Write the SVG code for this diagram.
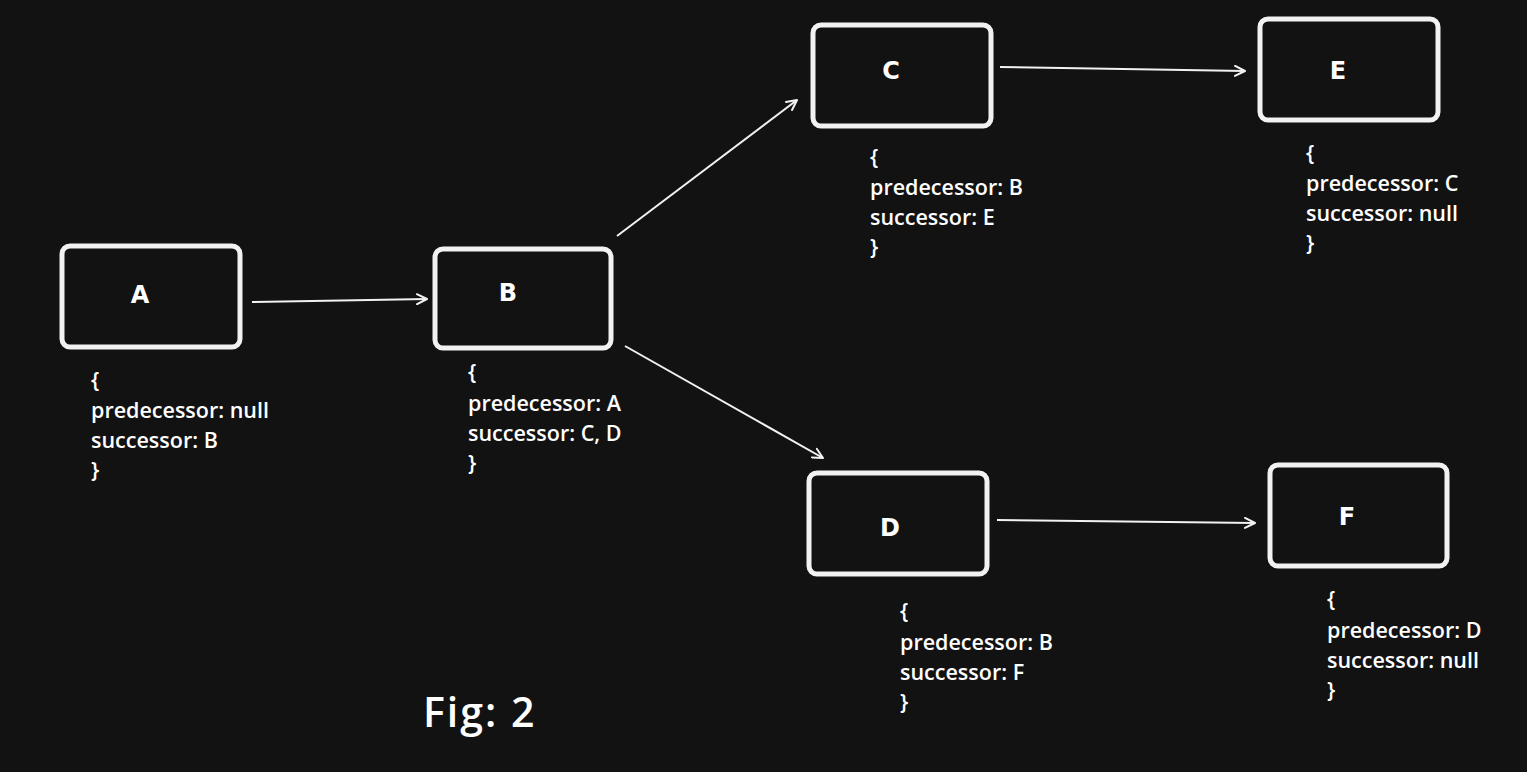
<svg xmlns="http://www.w3.org/2000/svg" width="1527" height="772" viewBox="0 0 1527 772">
<defs>
<style>
.box{fill:#121212;stroke:#f2f2f2;stroke-width:5}
.lbl{font-family:"DejaVu Sans",sans-serif;font-weight:bold;font-size:24px;fill:#ffffff;text-anchor:middle}
.info{font-family:"Open Sans","Liberation Sans",sans-serif;font-size:21.5px;font-weight:600;fill:#ffffff}
.edge{stroke:#f2f2f2;stroke-width:2;fill:none;marker-end:url(#ah)}
</style>
<marker id="ah" viewBox="0 0 12 12" refX="11" refY="6" markerWidth="12" markerHeight="12" markerUnits="userSpaceOnUse" orient="auto">
<path d="M1,1 L11,6 L1,11" fill="none" stroke="#f2f2f2" stroke-width="2" stroke-linecap="round" stroke-linejoin="round"/>
</marker>
</defs>
<rect width="1527" height="772" fill="#121212"/>
<g id="connectors">
<line class="edge" x1="252" y1="302" x2="427" y2="299"/>
<line class="edge" x1="617" y1="236" x2="797" y2="100"/>
<line class="edge" x1="625" y1="346" x2="823" y2="458"/>
<line class="edge" x1="1000" y1="67" x2="1245" y2="71"/>
<line class="edge" x1="997" y1="520" x2="1255" y2="523"/>
</g>
<g id="A">
<rect class="box" x="62" y="246" width="178" height="101" rx="8"/>
<text class="lbl" x="140" y="303">A</text>
<text class="info" x="91" y="388">{</text>
<text class="info" x="91" y="418">predecessor: null</text>
<text class="info" x="91" y="448">successor: B</text>
<text class="info" x="91" y="478">}</text>
</g>
<g id="B">
<rect class="box" x="435" y="249" width="176" height="99" rx="8"/>
<text class="lbl" x="508" y="301">B</text>
<text class="info" x="468" y="380">{</text>
<text class="info" x="468" y="411">predecessor: A</text>
<text class="info" x="468" y="441">successor: C, D</text>
<text class="info" x="468" y="471">}</text>
</g>
<g id="C">
<rect class="box" x="813" y="25" width="178" height="101" rx="8"/>
<text class="lbl" x="891" y="79">C</text>
<text class="info" x="870" y="165">{</text>
<text class="info" x="870" y="195">predecessor: B</text>
<text class="info" x="870" y="225">successor: E</text>
<text class="info" x="870" y="255">}</text>
</g>
<g id="E">
<rect class="box" x="1260" y="19" width="178" height="101" rx="8"/>
<text class="lbl" x="1338" y="79">E</text>
<text class="info" x="1306" y="161">{</text>
<text class="info" x="1306" y="191">predecessor: C</text>
<text class="info" x="1306" y="221">successor: null</text>
<text class="info" x="1306" y="251">}</text>
</g>
<g id="D">
<rect class="box" x="809" y="473" width="178" height="101" rx="8"/>
<text class="lbl" x="890" y="536">D</text>
<text class="info" x="900" y="619">{</text>
<text class="info" x="900" y="650">predecessor: B</text>
<text class="info" x="900" y="680">successor: F</text>
<text class="info" x="900" y="710">}</text>
</g>
<g id="F">
<rect class="box" x="1270" y="465" width="177" height="101" rx="8"/>
<text class="lbl" x="1347" y="525">F</text>
<text class="info" x="1327" y="607">{</text>
<text class="info" x="1327" y="638">predecessor: D</text>
<text class="info" x="1327" y="668">successor: null</text>
<text class="info" x="1327" y="698">}</text>
</g>
<text x="423" y="727" font-family="'Open Sans','Liberation Sans',sans-serif" font-size="41" font-weight="600" letter-spacing="2" fill="#ffffff">Fig: 2</text>
</svg>
